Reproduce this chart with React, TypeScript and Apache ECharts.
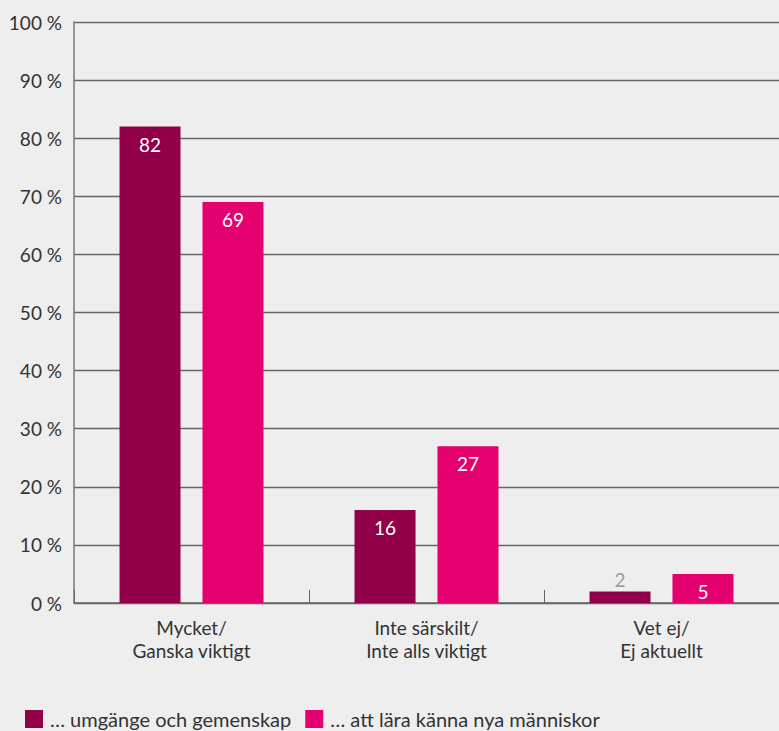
import React, { useEffect, useRef } from "react";
import * as echarts from "echarts";

const categories = ["Mycket/\nGanska viktigt", "Inte särskilt/\nInte alls viktigt", "Vet ej/\nEj aktuellt"];
const seriesNames = ["… umgänge och gemenskap", "… att lära känna nya människor"];
const umgangeValues = [82, 16, 2];
const nyaValues = [69, 27, 5];
const yTicks = [0, 10, 20, 30, 40, 50, 60, 70, 80, 90, 100];

const FONT = "Lato, 'Noto Sans', sans-serif";

export default function App() {
  const ref = useRef<HTMLDivElement>(null);
  useEffect(() => {
    document.body.style.margin = "0";
    const chart = echarts.init(ref.current!, null, { renderer: "svg" });
    const makeData = (vals: number[]) =>
      vals.map((v) =>
        v < 4
          ? { value: v, label: { position: "top", color: "#9a9a9a", distance: 2 } }
          : { value: v }
      );
    const barLabel = {
      show: true,
      position: "insideTop",
      distance: 8,
      color: "#ffffff",
      fontSize: 19,
      fontFamily: FONT,
    };
    chart.setOption({
      animation: false,
      backgroundColor: "#eeeeee",
      textStyle: { fontFamily: FONT },
      grid: { left: 74, top: 22, width: 714, height: 581, containLabel: false },
      legend: {
        left: 25,
        top: 709,
        padding: 0,
        itemWidth: 18,
        itemHeight: 18,
        itemGap: 14,
        icon: "rect",
        textStyle: { fontSize: 20, color: "#333", fontFamily: FONT, padding: [0, 0, 0, 2] },
        data: seriesNames,
      },
      xAxis: {
        type: "category",
        data: categories,
        axisLine: { lineStyle: { color: "#666", width: 1.5 } },
        axisTick: { show: true, inside: true, length: 13, lineStyle: { color: "#666" } },
        axisLabel: {
          fontSize: 19,
          color: "#333",
          lineHeight: 23,
          margin: 13,
          fontFamily: FONT,
        },
      },
      yAxis: {
        type: "value",
        min: yTicks[0],
        max: yTicks[yTicks.length - 1],
        interval: 10,
        axisLine: { show: true, lineStyle: { color: "#777", width: 1.5 } },
        axisTick: { show: false },
        splitLine: { lineStyle: { color: "#666", width: 1.3 } },
        axisLabel: {
          formatter: (v: number) => `${v} %`,
          fontSize: 19,
          color: "#333",
          margin: 12,
          fontFamily: FONT,
        },
      },
      series: [
        {
          name: seriesNames[0],
          type: "bar",
          data: makeData(umgangeValues),
          barWidth: 61,
          barGap: "36%",
          itemStyle: { color: "#93004a" },
          label: barLabel,
        },
        {
          name: seriesNames[1],
          type: "bar",
          data: makeData(nyaValues),
          barWidth: 61,
          barGap: "36%",
          itemStyle: { color: "#e5006f" },
          label: barLabel,
        },
      ],
    });
    return () => chart.dispose();
  }, []);
  return <div ref={ref} style={{ width: 779, height: 731 }} />;
}
